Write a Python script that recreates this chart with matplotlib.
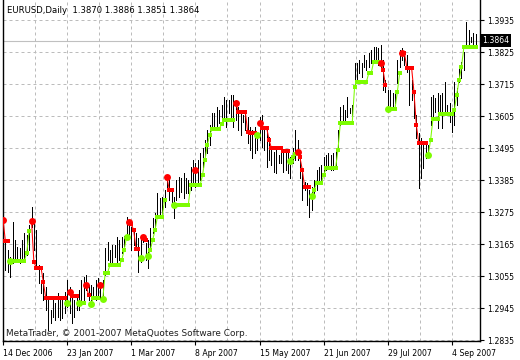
import numpy as np
import matplotlib.pyplot as plt

# EURUSD daily bars (high / low), 14 Dec 2006 .. mid Sep 2007
highs = [
    1.3258, 1.3168, 1.3144, 1.3120, 1.3241, 1.3179, 1.3155, 1.3151, 1.3179, 1.3203,
    1.3196, 1.3230, 1.3292, 1.3248, 1.3213, 1.3093, 1.3031, 1.3065, 1.3017, 1.2973,
    1.2938, 1.2973, 1.2962, 1.2997, 1.2973, 1.2983, 1.3000, 1.3041, 1.3017, 1.2983,
    1.2973, 1.2983, 1.3007, 1.3041, 1.3052, 1.3058, 1.3024, 1.3024, 1.3017, 1.3041,
    1.3048, 1.3034, 1.3041, 1.3151, 1.3172, 1.3144, 1.3162, 1.3162, 1.3189, 1.3179,
    1.3189, 1.3193, 1.3258, 1.3241, 1.3223, 1.3213, 1.3203, 1.3186, 1.3193, 1.3196,
    1.3168, 1.3179, 1.3220, 1.3254, 1.3272, 1.3340, 1.3323, 1.3327, 1.3351, 1.3392,
    1.3385, 1.3351, 1.3327, 1.3385, 1.3395, 1.3392, 1.3409, 1.3392, 1.3385, 1.3430,
    1.3454, 1.3444, 1.3454, 1.3478, 1.3495, 1.3523, 1.3557, 1.3574, 1.3615, 1.3615,
    1.3636, 1.3626, 1.3643, 1.3670, 1.3660, 1.3660, 1.3677, 1.3677, 1.3660, 1.3636,
    1.3615, 1.3608, 1.3619, 1.3602, 1.3567, 1.3557, 1.3567, 1.3547, 1.3602, 1.3608,
    1.3557, 1.3564, 1.3533, 1.3495, 1.3481, 1.3488, 1.3471, 1.3488, 1.3478, 1.3478,
    1.3478, 1.3464, 1.3495, 1.3557, 1.3523, 1.3481, 1.3426, 1.3378, 1.3375, 1.3351,
    1.3361, 1.3385, 1.3419, 1.3430, 1.3437, 1.3464, 1.3471, 1.3478, 1.3471, 1.3478,
    1.3488, 1.3557, 1.3636, 1.3643, 1.3626, 1.3670, 1.3633, 1.3643, 1.3787, 1.3787,
    1.3798, 1.3787, 1.3815, 1.3798, 1.3822, 1.3832, 1.3842, 1.3842, 1.3839, 1.3849,
    1.3798, 1.3729, 1.3694, 1.3694, 1.3684, 1.3688, 1.3798, 1.3832, 1.3839, 1.3825,
    1.3815, 1.3770, 1.3729, 1.3688, 1.3608, 1.3547, 1.3529, 1.3505, 1.3516, 1.3505,
    1.3670, 1.3677, 1.3667, 1.3684, 1.3677, 1.3684, 1.3722, 1.3643, 1.3650, 1.3633,
    1.3722, 1.3701, 1.3780, 1.3791, 1.3825, 1.3928, 1.3901, 1.3877, 1.3890, 1.3886,
]
lows = [
    1.3138, 1.3076, 1.3069, 1.3052, 1.3100, 1.3110, 1.3110, 1.3100, 1.3103, 1.3110,
    1.3127, 1.3144, 1.3223, 1.3144, 1.3086, 1.3031, 1.2997, 1.2973, 1.2938, 1.2869,
    1.2894, 1.2914, 1.2904, 1.2914, 1.2904, 1.2911, 1.2928, 1.2948, 1.2928, 1.2894,
    1.2914, 1.2938, 1.2938, 1.2973, 1.2973, 1.3007, 1.2973, 1.2966, 1.2979, 1.2973,
    1.2983, 1.2979, 1.2983, 1.3058, 1.3110, 1.3100, 1.3103, 1.3120, 1.3100, 1.3110,
    1.3134, 1.3158, 1.3186, 1.3189, 1.3144, 1.3162, 1.3144, 1.3069, 1.3103, 1.3172,
    1.3110, 1.3083, 1.3155, 1.3203, 1.3213, 1.3254, 1.3254, 1.3272, 1.3292, 1.3351,
    1.3316, 1.3292, 1.3254, 1.3316, 1.3327, 1.3344, 1.3323, 1.3340, 1.3340, 1.3351,
    1.3375, 1.3361, 1.3375, 1.3385, 1.3430, 1.3471, 1.3478, 1.3505, 1.3557, 1.3567,
    1.3567, 1.3581, 1.3591, 1.3602, 1.3567, 1.3615, 1.3602, 1.3567, 1.3591, 1.3557,
    1.3540, 1.3584, 1.3557, 1.3512, 1.3488, 1.3461, 1.3478, 1.3488, 1.3523, 1.3498,
    1.3488, 1.3430, 1.3454, 1.3437, 1.3413, 1.3409, 1.3444, 1.3444, 1.3413, 1.3419,
    1.3409, 1.3392, 1.3444, 1.3454, 1.3454, 1.3392, 1.3316, 1.3351, 1.3299, 1.3258,
    1.3282, 1.3323, 1.3351, 1.3375, 1.3375, 1.3409, 1.3419, 1.3426, 1.3419, 1.3419,
    1.3430, 1.3495, 1.3574, 1.3581, 1.3591, 1.3602, 1.3615, 1.3608, 1.3705, 1.3729,
    1.3753, 1.3739, 1.3773, 1.3763, 1.3773, 1.3787, 1.3787, 1.3787, 1.3780, 1.3773,
    1.3694, 1.3688, 1.3619, 1.3626, 1.3636, 1.3650, 1.3719, 1.3773, 1.3798, 1.3780,
    1.3756, 1.3643, 1.3660, 1.3598, 1.3529, 1.3358, 1.3392, 1.3426, 1.3461, 1.3471,
    1.3574, 1.3598, 1.3619, 1.3564, 1.3619, 1.3564, 1.3608, 1.3608, 1.3584, 1.3550,
    1.3574, 1.3643, 1.3722, 1.3736, 1.3763, 1.3839, 1.3849, 1.3859, 1.3842, 1.3851,
]

# trailing stop line, one value per bar, G = uptrend (green), R = downtrend (red)
trail = [
    1.3248, 1.3176, 1.3176, 1.3108, 1.3108, 1.3108, 1.3108, 1.3108, 1.3108, 1.3108,
    1.3134, 1.3210, 1.3245, 1.3103, 1.3084, 1.3084, 1.3084, 1.3034, 1.2978, 1.2978,
    1.2978, 1.2978, 1.2978, 1.2978, 1.2978, 1.2978, 1.2978, 1.2961, 1.3001, 1.2987,
    1.2987, 1.2987, 1.2963, 1.2963, 1.2963, 1.3024, 1.2990, 1.2959, 1.2979, 1.2979,
    1.2979, 1.3024, 1.2975, 1.3065, 1.3065, 1.3093, 1.3093, 1.3093, 1.3093, 1.3093,
    1.3110, 1.3144, 1.3189, 1.3240, 1.3234, 1.3213, 1.3148, 1.3148, 1.3118, 1.3190,
    1.3179, 1.3124, 1.3144, 1.3179, 1.3213, 1.3258, 1.3258, 1.3258, 1.3316, 1.3396,
    1.3351, 1.3351, 1.3299, 1.3299, 1.3299, 1.3299, 1.3299, 1.3299, 1.3299, 1.3368,
    1.3368, 1.3368, 1.3368, 1.3368, 1.3402, 1.3454, 1.3505, 1.3540, 1.3560, 1.3560,
    1.3560, 1.3560, 1.3578, 1.3591, 1.3591, 1.3591, 1.3591, 1.3591, 1.3651, 1.3620,
    1.3620, 1.3620, 1.3620, 1.3550, 1.3548, 1.3548, 1.3548, 1.3540, 1.3580, 1.3564,
    1.3564, 1.3564, 1.3523, 1.3495, 1.3495, 1.3495, 1.3495, 1.3495, 1.3485, 1.3485,
    1.3485, 1.3451, 1.3464, 1.3474, 1.3482, 1.3464, 1.3419, 1.3360, 1.3360, 1.3360,
    1.3330, 1.3351, 1.3375, 1.3375, 1.3375, 1.3402, 1.3425, 1.3425, 1.3425, 1.3425,
    1.3425, 1.3488, 1.3580, 1.3580, 1.3580, 1.3580, 1.3580, 1.3580, 1.3705, 1.3723,
    1.3723, 1.3723, 1.3723, 1.3723, 1.3753, 1.3753, 1.3790, 1.3790, 1.3790, 1.3786,
    1.3763, 1.3712, 1.3629, 1.3629, 1.3629, 1.3629, 1.3688, 1.3753, 1.3821, 1.3821,
    1.3771, 1.3771, 1.3771, 1.3688, 1.3574, 1.3513, 1.3513, 1.3513, 1.3513, 1.3471,
    1.3523, 1.3595, 1.3595, 1.3595, 1.3611, 1.3611, 1.3611, 1.3611, 1.3611, 1.3611,
    1.3626, 1.3677, 1.3729, 1.3774, 1.3841, 1.3841, 1.3841, 1.3841, 1.3841, 1.3841,
]
trail_side = (
    "RRRGGGGGGG" "GGRRRRRRRR" "RRRRRRRGRR" "RRGGGRRGGG" "GRGGGGGGGG"
    "GGGRRRRRGR" "RGGGGGGGGR" "RRGGGGGGGG" "GGGGGGGGGG" "GGGGGGGGRR"
    "RRRRRRRGRR" "RRRRRRRRRR" "RGGGRRRRRR" "GGGGGGGGGG" "GGGGGGGGGG"
    "GGGGGGGGGR" "RRGGGGGGRR" "RRRRRRRRRG" "GGGGGGGGGG" "GGGGGGGGGG"
)

# big signal dots
dot_bar = [0, 3, 12, 27, 28, 32, 35, 37, 41, 42, 52, 53, 58, 59, 61, 69, 72,
           81, 98, 107, 108, 121, 124, 130, 159, 162, 168, 179]
dot_price = [1.3248, 1.3108, 1.3245, 1.2961, 1.3001, 1.2963, 1.3024, 1.2959,
             1.3024, 1.2975, 1.3189, 1.3240, 1.3118, 1.3190, 1.3124, 1.3396,
             1.3299, 1.3419, 1.3651, 1.3540, 1.3580, 1.3451, 1.3482, 1.3330,
             1.3786, 1.3629, 1.3821, 1.3471]
dot_side = "RGRGRGRGRGGRGRGRGRRGRGRGRGRG"

date_labels = ["14 Dec 2006", "23 Jan 2007", "1 Mar 2007", "8 Apr 2007",
               "15 May 2007", "21 Jun 2007", "29 Jul 2007", "4 Sep 2007"]
price_ticks = [1.2835, 1.2945, 1.3055, 1.3165, 1.3275, 1.3385,
               1.3495, 1.3605, 1.3715, 1.3825, 1.3935]
last_price = 1.3864
header = "EURUSD,Daily  1.3870 1.3886 1.3851 1.3864"
footer = "MetaTrader, \u00a9 2001-2007 MetaQuotes Software Corp."

colors = {"G": "#7cfc00", "R": "#ff0000"}
label_step = 27  # bars between date labels

W, H = 520, 360
fig = plt.figure(figsize=(W / 100, H / 100), dpi=100)
ax = fig.add_axes([3 / W, 19 / H, 477 / W, 341 / H])

n = len(highs)
x = np.arange(n)

# grid
ax.set_yticks(price_ticks)
ax.set_yticklabels([f"{p:.4f}" for p in price_ticks])
ax.set_xticks(np.arange(len(date_labels)) * label_step)
ax.set_xticklabels(date_labels, ha="left")
ax.set_xticks(np.arange(len(date_labels)) * label_step + label_step / 2, minor=True)
ax.grid(True, which="both", color="#bcbcbc", lw=0.72, ls=(0, (3, 3)), zorder=0)

ax.axhline(last_price, color="#c0c0c0", lw=0.8, zorder=1)

# bars
ax.vlines(x, lows, highs, color="black", lw=0.6, antialiased=False, zorder=3)

# trailing line
trail = np.array(trail)
side = np.array(list(trail_side))
for s in "GR":
    y = np.where(side == s, trail, np.nan)
    ax.plot(x, y, color=colors[s], lw=0.75, marker="s", ms=2.4, mew=0, zorder=4)

for b, p, s in zip(dot_bar, dot_price, dot_side):
    ax.plot(b, p, "o", color=colors[s], ms=5, mew=0, zorder=5)

ax.set_xlim(0, 200.8)
ax.set_ylim(1.28316, 1.40038)

for sp in ("left", "right", "bottom"):
    ax.spines[sp].set_color("black")
    ax.spines[sp].set_linewidth(1.0)
ax.spines["top"].set_visible(False)

ax.yaxis.tick_right()
ax.tick_params(axis="y", which="both", length=3, width=0.8, pad=2,
               labelsize=5.6, colors="black")
ax.tick_params(axis="x", which="major", length=3, width=0.8, pad=3,
               labelsize=5.6, colors="black")
ax.tick_params(axis="x", which="minor", length=0)

ax.text(1.004, last_price, f"{last_price:.4f}", transform=ax.get_yaxis_transform(),
        color="white", fontsize=5.6, va="center", ha="left",
        bbox=dict(facecolor="black", edgecolor="none", pad=1.3), zorder=6,
        clip_on=False)

fig.text(7 / W, 1 - 10.7 / H, header, fontsize=6.1, va="center", ha="left")
fig.text(6 / W, 1 - 334 / H, footer, fontsize=6.4, va="center", ha="left",
         color="#202020")

fig.savefig("out.png", dpi=100, facecolor="white")
